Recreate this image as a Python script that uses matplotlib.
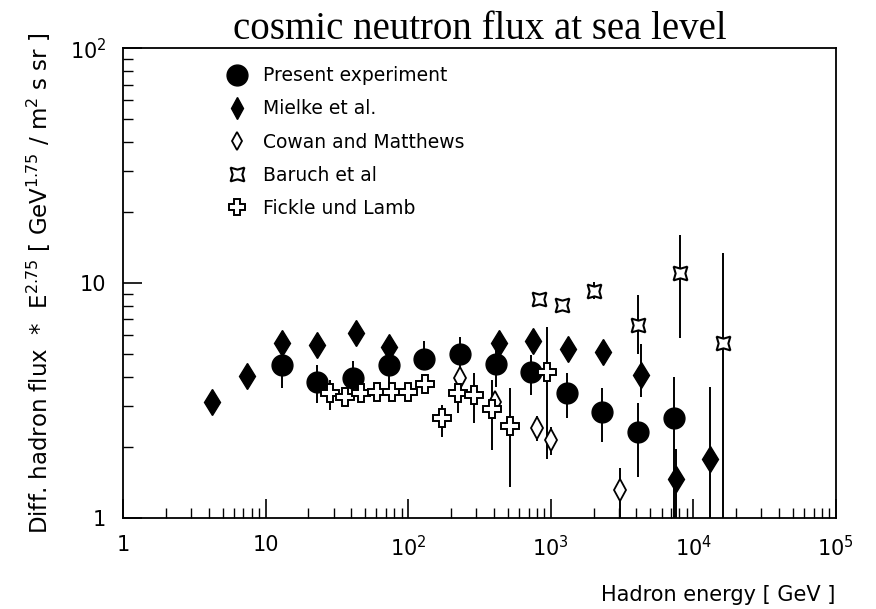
import numpy as np
import matplotlib.pyplot as plt
from matplotlib.lines import Line2D
from matplotlib.ticker import LogLocator, FixedLocator, NullFormatter

plt.rcParams['font.family'] = ['DejaVu Sans']

# Present experiment (big filled circles)
pe_E = [13.0, 22.8, 40.8, 73.0, 129, 232, 413, 734, 1306, 2311, 4110, 7280]
pe_F = [4.5, 3.80, 3.95, 4.48, 4.75, 4.99, 4.52, 4.19, 3.41, 2.83, 2.32, 2.66]
pe_lo = [0.93, 0.71, 0.60, 0.86, 0.48, 0.75, 0.90, 0.85, 0.75, 0.72, 0.82, 1.75]
pe_hi = [0.80, 0.69, 0.71, 1.25, 0.92, 0.90, 0.90, 0.75, 0.73, 0.74, 0.77, 1.33]

# Mielke et al. (filled diamonds)
mi_E = [4.19, 7.37, 13.1, 23.0, 43.3, 73.7, 433, 747, 1327, 2334, 4294, 7550, 13070]
mi_F = [3.12, 4.03, 5.54, 5.45, 6.11, 5.33, 5.54, 5.68, 5.24, 5.10, 4.06, 1.46, 1.79]
mi_lo = [0.10, 0.10, 0.10, 0.10, 0.10, 0.10, 0.10, 0.10, 0.40, 0.40, 0.78, 0.50, 0.85]
mi_hi = [0.10, 0.10, 0.10, 0.10, 0.10, 0.10, 0.10, 0.10, 0.40, 0.50, 1.44, 0.50, 1.81]

# Cowan and Matthews (open diamonds)
cm_E = [232, 405, 809, 1014, 3090]
cm_F = [3.93, 3.12, 2.42, 2.15, 1.32]
cm_lo = [0.10, 0.10, 0.30, 0.30, 0.32]
cm_hi = [0.10, 0.10, 0.30, 0.30, 0.32]

# Baruch et al (four-pointed stars)
ba_E = [830, 1203, 2010, 4110, 8050, 16200]
ba_F = [8.52, 8.06, 9.27, 6.63, 11.0, 5.54]
ba_lo = [0.30, 0.30, 0.70, 1.63, 5.18, 4.60]
ba_hi = [0.30, 0.30, 0.80, 2.26, 5.00, 7.86]

# Fickle und Lamb (open crosses)
fl_E = [28.3, 36.0, 46.4, 60.1, 76.6, 100, 131, 172, 224, 289, 385, 518, 936]
fl_F = [3.39, 3.26, 3.41, 3.45, 3.45, 3.45, 3.71, 2.66, 3.41, 3.34, 2.90, 2.46, 4.19]
fl_lo = [0.51, 0.20, 0.20, 0.20, 0.20, 0.20, 0.25, 0.44, 0.62, 0.81, 0.95, 1.10, 2.40]
fl_hi = [0.47, 0.20, 0.20, 0.20, 0.20, 0.20, 0.30, 0.36, 0.72, 0.79, 0.96, 1.10, 2.33]

fig = plt.figure(figsize=(8.76, 6.09), dpi=100)
ax = fig.add_axes([0.1404, 0.1494, 0.8136, 0.7716])

ekw = dict(ecolor='black', elinewidth=1.4, capsize=0, linestyle='none')

ax.errorbar(pe_E, pe_F, yerr=[pe_lo, pe_hi], marker='o', ms=15, mfc='black',
            mec='black', **ekw)
ax.errorbar(mi_E, mi_F, yerr=[mi_lo, mi_hi], marker='d', ms=13, mfc='black',
            mec='black', **ekw)
ax.errorbar(cm_E, cm_F, yerr=[cm_lo, cm_hi], marker='d', ms=11, mfc='white',
            mec='black', mew=1.3, **ekw)
ax.errorbar(ba_E, ba_F, yerr=[ba_lo, ba_hi], marker=(4, 1, 45), ms=14, mfc='white',
            mec='black', mew=1.5, **ekw)
ax.errorbar(fl_E, fl_F, yerr=[fl_lo, fl_hi], marker='P', ms=13, mfc='white',
            mec='black', mew=1.4, **ekw)

ax.set_xscale('log')
ax.set_yscale('log')
ax.set_xlim(1, 1e5)
ax.set_ylim(1, 100)

ax.xaxis.set_major_locator(FixedLocator([1, 10, 100, 1000, 1e4, 1e5]))
ax.set_xticklabels(['1', '10', '$10^2$', '$10^3$', '$10^4$', '$10^5$'])
ax.yaxis.set_major_locator(FixedLocator([1, 10, 100]))
ax.set_yticklabels(['1', '10', '$10^2$'])
ax.xaxis.set_minor_locator(LogLocator(base=10, subs=np.arange(2, 10), numticks=20))
ax.yaxis.set_minor_locator(LogLocator(base=10, subs=np.arange(2, 10), numticks=20))
ax.xaxis.set_minor_formatter(NullFormatter())
ax.yaxis.set_minor_formatter(NullFormatter())
ax.tick_params(which='both', direction='in', top=False, right=False,
               labelsize=15, pad=12)
ax.tick_params(which='major', length=14, width=1.2)
ax.tick_params(which='minor', length=7, width=1.0)
for s in ax.spines.values():
    s.set_linewidth(1.3)

handles = [
    Line2D([], [], ls='none', marker='o', ms=15, mfc='black', mec='black'),
    Line2D([], [], ls='none', marker='d', ms=11, mfc='black', mec='black'),
    Line2D([], [], ls='none', marker='d', ms=9, mfc='white', mec='black', mew=1.3),
    Line2D([], [], ls='none', marker=(4, 1, 45), ms=14, mfc='white', mec='black', mew=1.5),
    Line2D([], [], ls='none', marker='P', ms=12, mfc='white', mec='black', mew=1.4),
]
labels = ['Present experiment', 'Mielke et al.', 'Cowan and Matthews',
          'Baruch et al', 'Fickle und Lamb']
ax.legend(handles, labels, loc='upper left', bbox_to_anchor=(0.12, 0.997),
          frameon=False, fontsize=13.5, labelspacing=0.75, handletextpad=0.8,
          handlelength=1.2)

ax.set_title('cosmic neutron flux at sea level', family='Liberation Serif',
             fontsize=28, pad=1)
ax.set_xlabel('Hadron energy [ GeV ]', fontsize=15, loc='right', labelpad=18)
ax.set_ylabel('Diff. hadron flux  $*$  E$^{2.75}$ [ GeV$^{1.75}$ / m$^2$ s sr ]',
              fontsize=16.5, labelpad=12)

fig.savefig('out.png', dpi=100)
